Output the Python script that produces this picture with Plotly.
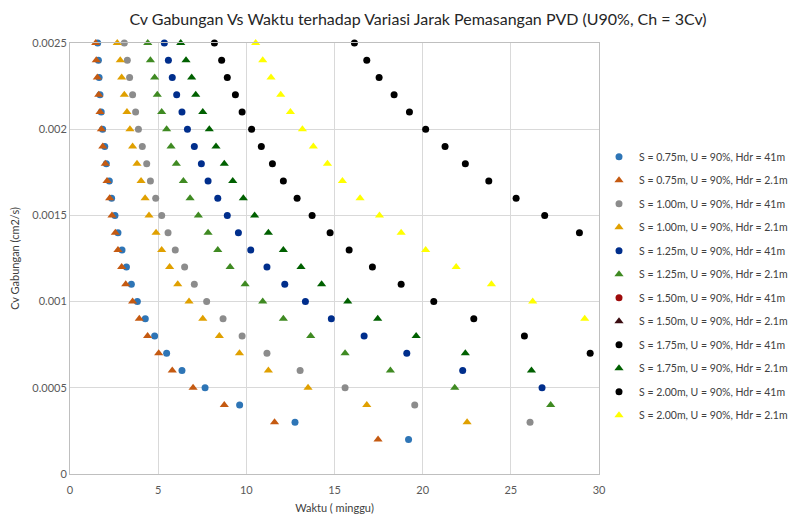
import plotly.graph_objects as go

# Cv Gabungan (cm2/s) levels, from 0.0025 down to 0.0002
cv_levels = [0.0025, 0.0024, 0.0023, 0.0022, 0.0021, 0.0020, 0.0019, 0.0018,
             0.0017, 0.0016, 0.0015, 0.0014, 0.0013, 0.0012, 0.0011, 0.0010,
             0.0009, 0.0008, 0.0007, 0.0006, 0.0005, 0.0004, 0.0003, 0.0002]

# Waktu (minggu) per series, listed from the top Cv level downward
t_075_41 = [1.57, 1.61, 1.65, 1.70, 1.77, 1.85, 1.97, 2.06, 2.23, 2.36, 2.55, 2.72,
            2.95, 3.20, 3.48, 3.82, 4.27, 4.80, 5.48, 6.35, 7.66, 9.62, 12.76, 19.2]
t_075_21 = [1.46, 1.49, 1.55, 1.63, 1.70, 1.78, 1.86, 2.00, 2.10, 2.25, 2.38, 2.57,
            2.72, 2.93, 3.16, 3.55, 3.93, 4.40, 5.03, 5.80, 6.98, 8.75, 11.6, 17.47]
t_100_41 = [3.08, 3.25, 3.38, 3.55, 3.72, 3.88, 4.10, 4.35, 4.56, 4.86, 5.20, 5.56,
            5.97, 6.50, 7.05, 7.75, 8.68, 9.76, 11.17, 13.05, 15.6, 19.55, 26.09]
t_100_21 = [2.68, 2.85, 2.93, 3.08, 3.23, 3.40, 3.55, 3.80, 4.03, 4.26, 4.48, 4.88,
            5.20, 5.65, 6.11, 6.75, 7.53, 8.47, 9.61, 11.25, 13.5, 16.83, 22.52]
t_125_41 = [5.35, 5.58, 5.80, 6.05, 6.35, 6.66, 7.05, 7.45, 7.83, 8.38, 8.92, 9.55,
            10.25, 11.17, 12.18, 13.35, 14.82, 16.68, 19.1, 22.27, 26.77]
t_125_21 = [4.41, 4.56, 4.80, 4.95, 5.20, 5.48, 5.73, 6.03, 6.43, 6.81, 7.28, 7.83,
            8.38, 9.08, 9.93, 10.93, 12.1, 13.65, 15.6, 18.17, 21.82, 27.26]
t_150_41 = []
t_150_21 = []
t_175_41 = [8.19, 8.60, 8.92, 9.38, 9.76, 10.30, 10.85, 11.48, 12.1, 12.88, 13.73, 14.75,
            15.83, 17.15, 18.78, 20.63, 22.9, 25.77, 29.5]
t_175_21 = [6.28, 6.58, 6.90, 7.13, 7.53, 7.90, 8.28, 8.75, 9.23, 9.83, 10.47, 11.25,
            12.1, 13.1, 14.27, 15.75, 17.45, 19.63, 22.42, 26.17]
t_200_41 = [16.13, 16.83, 17.53, 18.38, 19.25, 20.17, 21.27, 22.42, 23.75, 25.3, 26.92, 28.89]
t_200_21 = [10.53, 10.93, 11.4, 11.95, 12.5, 13.18, 13.8, 14.6, 15.45, 16.45, 17.55, 18.78,
            20.17, 21.9, 23.9, 26.24, 29.19]

series_names = [
    "S = 0.75m, U = 90%, Hdr = 41m", "S = 0.75m, U = 90%, Hdr = 2.1m",
    "S = 1.00m, U = 90%, Hdr = 41m", "S = 1.00m, U = 90%, Hdr = 2.1m",
    "S = 1.25m, U = 90%, Hdr = 41m", "S = 1.25m, U = 90%, Hdr = 2.1m",
    "S = 1.50m, U = 90%, Hdr = 41m", "S = 1.50m, U = 90%, Hdr = 2.1m",
    "S = 1.75m, U = 90%, Hdr = 41m", "S = 1.75m, U = 90%, Hdr = 2.1m",
    "S = 2.00m, U = 90%, Hdr = 41m", "S = 2.00m, U = 90%, Hdr = 2.1m",
]
series_times = [t_075_41, t_075_21, t_100_41, t_100_21, t_125_41, t_125_21,
                t_150_41, t_150_21, t_175_41, t_175_21, t_200_41, t_200_21]

x_ticks = [0, 5, 10, 15, 20, 25, 30]
y_ticks = [0, 0.0005, 0.001, 0.0015, 0.002, 0.0025]
y_ticktext = ["0", "0.0005", "0.001", "0.0015", "0.002", "0.0025"]

colors = ["#2E75B6", "#C55A11", "#8C8C8C", "#E0A000", "#002E8C", "#3F8A22",
          "#9E0B0B", "#3B0D12", "#000000", "#006000", "#000000", "#FFFF00"]
symbols = ["circle", "triangle-up"] * 6

FONT = "Lato, Open Sans, sans-serif"

fig = go.Figure()
for i, (name, times) in enumerate(zip(series_names, series_times)):
    ys = cv_levels[:len(times)]
    xs = times
    if len(times) == 0:
        xs, ys = [None], [None]
    is_tri = symbols[i] == "triangle-up"
    fig.add_trace(go.Scatter(
        x=xs, y=ys, mode="markers", name=name, legendgroup=f"g{i}",
        marker=dict(symbol=symbols[i], color=colors[i], size=8 if is_tri else 7,
                    line=dict(width=0)),
        cliponaxis=False,
    ))

fig.update_layout(
    width=793, height=510,
    margin=dict(l=62, r=202, t=35, b=44, autoexpand=False),
    paper_bgcolor="white", plot_bgcolor="white",
    font=dict(family=FONT, size=11, color="#595959"),
    title=dict(text="Cv Gabungan Vs Waktu terhadap Variasi Jarak Pemasangan PVD (U90%, Ch = 3Cv)",
               x=0.517, xanchor="center", y=0.978, yanchor="middle", automargin=False,
               font=dict(family=FONT, size=16, color="#262626")),
    showlegend=True,
    legend=dict(x=1.0, xanchor="left", y=0.77, yanchor="top",
                font=dict(family=FONT, size=10.5, color="#404040"),
                tracegroupgap=4.5, itemwidth=30, bgcolor="rgba(0,0,0,0)"),
)
fig.update_xaxes(range=[0, 30], tickvals=x_ticks, showgrid=True, gridcolor="#D9D9D9",
                 gridwidth=1, showline=True, linecolor="#BFBFBF", mirror=True,
                 zeroline=False, ticks="", ticklen=0, automargin=False,
                 ticklabelstandoff=6,
                 title=dict(text="Waktu ( minggu)", standoff=9,
                            font=dict(family=FONT, size=11, color="#404040")))
fig.update_yaxes(range=[0, 0.0025], tickvals=y_ticks, ticktext=y_ticktext, showgrid=True,
                 gridcolor="#D9D9D9", gridwidth=1, showline=True, linecolor="#BFBFBF",
                 mirror=True, zeroline=False, ticks="", ticklen=0, automargin=False,
                 title=dict(text="Cv Gabungan (cm2/s)", standoff=11,
                            font=dict(family=FONT, size=11, color="#404040")))

fig.write_html("out.html")
